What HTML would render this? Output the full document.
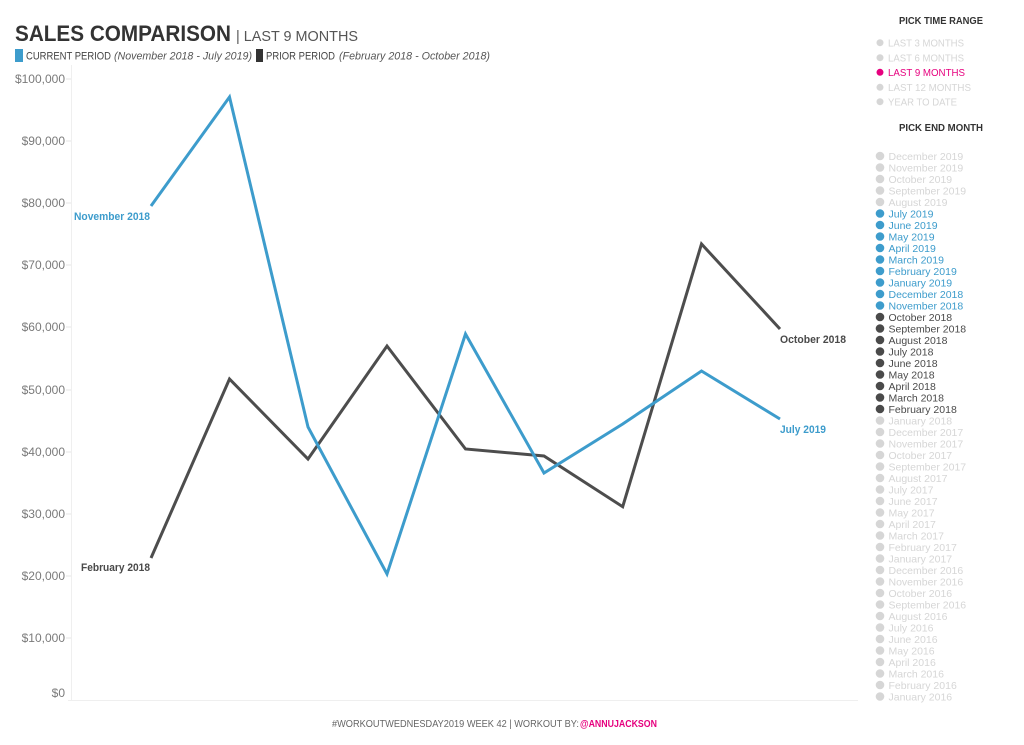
<!DOCTYPE html>
<html><head><meta charset="utf-8"><style>
html,body{margin:0;padding:0;background:#fff;}
svg{display:block;font-family:"Liberation Sans",sans-serif;}
</style></head><body>
<svg width="1024" height="745" viewBox="0 0 1024 745" xmlns="http://www.w3.org/2000/svg">
<rect width="1024" height="745" fill="#fff"/>
<!-- Title -->
<text x="15" y="41" font-size="22" font-weight="bold" fill="#333" textLength="216" lengthAdjust="spacingAndGlyphs">SALES COMPARISON</text>
<text x="236" y="41" font-size="15" fill="#555" textLength="122" lengthAdjust="spacingAndGlyphs">| LAST 9 MONTHS</text>
<!-- Legend -->
<rect x="15" y="49" width="8" height="13" fill="#3d9ccc"/>
<text x="26" y="59.5" font-size="11" fill="#444" textLength="85" lengthAdjust="spacingAndGlyphs">CURRENT PERIOD</text>
<text x="114" y="59.5" font-size="11" font-style="italic" fill="#555" textLength="138" lengthAdjust="spacingAndGlyphs">(November 2018 - July 2019)</text>
<rect x="256" y="49" width="7" height="13" fill="#333"/>
<text x="266" y="59.5" font-size="11" fill="#444" textLength="69" lengthAdjust="spacingAndGlyphs">PRIOR PERIOD</text>
<text x="339" y="59.5" font-size="11" font-style="italic" fill="#555" textLength="151" lengthAdjust="spacingAndGlyphs">(February 2018 - October 2018)</text>

<!-- Axes -->
<line x1="71.5" y1="65" x2="71.5" y2="700" stroke="#efefef" stroke-width="1"/>
<line x1="68" y1="700.5" x2="858" y2="700.5" stroke="#efefef" stroke-width="1"/>
<g stroke="#e6e6e6" stroke-width="1">
<line x1="66" y1="79" x2="71" y2="79"/>
<line x1="66" y1="141" x2="71" y2="141"/>
<line x1="66" y1="203" x2="71" y2="203"/>
<line x1="66" y1="265" x2="71" y2="265"/>
<line x1="66" y1="327" x2="71" y2="327"/>
<line x1="66" y1="390" x2="71" y2="390"/>
<line x1="66" y1="452" x2="71" y2="452"/>
<line x1="66" y1="514" x2="71" y2="514"/>
<line x1="66" y1="576" x2="71" y2="576"/>
<line x1="66" y1="638" x2="71" y2="638"/>
</g>
<g font-size="12" fill="#7a7a7a" text-anchor="end">
<text x="65" y="83">$100,000</text>
<text x="65" y="145">$90,000</text>
<text x="65" y="207">$80,000</text>
<text x="65" y="269">$70,000</text>
<text x="65" y="331">$60,000</text>
<text x="65" y="394">$50,000</text>
<text x="65" y="456">$40,000</text>
<text x="65" y="518">$30,000</text>
<text x="65" y="580">$20,000</text>
<text x="65" y="642">$10,000</text>
<text x="65" y="697">$0</text>
</g>

<!-- Series -->
<polyline fill="none" stroke="#4d4d4d" stroke-width="3" stroke-linejoin="miter"
 points="151,558 229.5,379 308,459 387,346 465.5,449 544,456 622.7,506.7 701.5,244 780,329"/>
<polyline fill="none" stroke="#3d9ccc" stroke-width="3" stroke-linejoin="miter"
 points="151,206 229.5,97 308,427 387,574 465.5,334 544,473 622.7,424 701.5,371 780,419"/>

<!-- Data labels -->
<text x="74" y="220" font-size="11" font-weight="bold" fill="#3d9ccc" textLength="76" lengthAdjust="spacingAndGlyphs">November 2018</text>
<text x="81" y="571" font-size="11" font-weight="bold" fill="#4a4a4a" textLength="69" lengthAdjust="spacingAndGlyphs">February 2018</text>
<text x="780" y="343" font-size="11" font-weight="bold" fill="#4a4a4a" textLength="66" lengthAdjust="spacingAndGlyphs">October 2018</text>
<text x="780" y="433" font-size="11" font-weight="bold" fill="#3d9ccc" textLength="46" lengthAdjust="spacingAndGlyphs">July 2019</text>

<!-- Footer -->
<text x="332" y="727" font-size="10" fill="#666" textLength="247" lengthAdjust="spacingAndGlyphs">#WORKOUTWEDNESDAY2019 WEEK 42 | WORKOUT BY:</text>
<text x="580" y="727" font-size="10" font-weight="bold" fill="#e6007e" textLength="77" lengthAdjust="spacingAndGlyphs">@ANNUJACKSON</text>

<!-- Right panel: time range -->
<text x="899" y="24" font-size="10" font-weight="bold" fill="#333" textLength="84" lengthAdjust="spacingAndGlyphs">PICK TIME RANGE</text>
<g font-size="10">
<circle cx="880" cy="42.7" r="3.5" fill="#d6d6d6"/><text x="888" y="46.5" fill="#d6d6d6" textLength="76" lengthAdjust="spacingAndGlyphs">LAST 3 MONTHS</text>
<circle cx="880" cy="57.7" r="3.5" fill="#d6d6d6"/><text x="888" y="61.5" fill="#d6d6d6" textLength="76" lengthAdjust="spacingAndGlyphs">LAST 6 MONTHS</text>
<circle cx="880" cy="72.3" r="3.5" fill="#e6007e"/><text x="888" y="76.1" fill="#e6007e" textLength="77" lengthAdjust="spacingAndGlyphs">LAST 9 MONTHS</text>
<circle cx="880" cy="87.3" r="3.5" fill="#d6d6d6"/><text x="888" y="91.1" fill="#d6d6d6" textLength="83" lengthAdjust="spacingAndGlyphs">LAST 12 MONTHS</text>
<circle cx="880" cy="101.7" r="3.5" fill="#d6d6d6"/><text x="888" y="105.5" fill="#d6d6d6" textLength="69" lengthAdjust="spacingAndGlyphs">YEAR TO DATE</text>
</g>
<text x="899" y="131" font-size="10" font-weight="bold" fill="#333" textLength="84" lengthAdjust="spacingAndGlyphs">PICK END MONTH</text>

<!-- End months -->
<g font-size="10.5" id="months">
<circle cx="880" cy="156" r="4.3" fill="#d6d6d6"/><text x="888.5" y="159.8" fill="#d6d6d6">December 2019</text>
<circle cx="880" cy="167.5" r="4.3" fill="#d6d6d6"/><text x="888.5" y="171.3" fill="#d6d6d6">November 2019</text>
<circle cx="880" cy="179" r="4.3" fill="#d6d6d6"/><text x="888.5" y="182.8" fill="#d6d6d6">October 2019</text>
<circle cx="880" cy="190.5" r="4.3" fill="#d6d6d6"/><text x="888.5" y="194.3" fill="#d6d6d6">September 2019</text>
<circle cx="880" cy="202" r="4.3" fill="#d6d6d6"/><text x="888.5" y="205.8" fill="#d6d6d6">August 2019</text>
<circle cx="880" cy="213.5" r="4.3" fill="#3d9ccc"/><text x="888.5" y="217.3" fill="#3d9ccc">July 2019</text>
<circle cx="880" cy="225" r="4.3" fill="#3d9ccc"/><text x="888.5" y="228.8" fill="#3d9ccc">June 2019</text>
<circle cx="880" cy="236.5" r="4.3" fill="#3d9ccc"/><text x="888.5" y="240.3" fill="#3d9ccc">May 2019</text>
<circle cx="880" cy="248" r="4.3" fill="#3d9ccc"/><text x="888.5" y="251.8" fill="#3d9ccc">April 2019</text>
<circle cx="880" cy="259.5" r="4.3" fill="#3d9ccc"/><text x="888.5" y="263.3" fill="#3d9ccc">March 2019</text>
<circle cx="880" cy="271" r="4.3" fill="#3d9ccc"/><text x="888.5" y="274.8" fill="#3d9ccc">February 2019</text>
<circle cx="880" cy="282.5" r="4.3" fill="#3d9ccc"/><text x="888.5" y="286.3" fill="#3d9ccc">January 2019</text>
<circle cx="880" cy="294" r="4.3" fill="#3d9ccc"/><text x="888.5" y="297.8" fill="#3d9ccc">December 2018</text>
<circle cx="880" cy="305.5" r="4.3" fill="#3d9ccc"/><text x="888.5" y="309.3" fill="#3d9ccc">November 2018</text>
<circle cx="880" cy="317" r="4.3" fill="#4a4a4a"/><text x="888.5" y="320.8" fill="#4a4a4a">October 2018</text>
<circle cx="880" cy="328.5" r="4.3" fill="#4a4a4a"/><text x="888.5" y="332.3" fill="#4a4a4a">September 2018</text>
<circle cx="880" cy="340" r="4.3" fill="#4a4a4a"/><text x="888.5" y="343.8" fill="#4a4a4a">August 2018</text>
<circle cx="880" cy="351.5" r="4.3" fill="#4a4a4a"/><text x="888.5" y="355.3" fill="#4a4a4a">July 2018</text>
<circle cx="880" cy="363" r="4.3" fill="#4a4a4a"/><text x="888.5" y="366.8" fill="#4a4a4a">June 2018</text>
<circle cx="880" cy="374.5" r="4.3" fill="#4a4a4a"/><text x="888.5" y="378.3" fill="#4a4a4a">May 2018</text>
<circle cx="880" cy="386" r="4.3" fill="#4a4a4a"/><text x="888.5" y="389.8" fill="#4a4a4a">April 2018</text>
<circle cx="880" cy="397.5" r="4.3" fill="#4a4a4a"/><text x="888.5" y="401.3" fill="#4a4a4a">March 2018</text>
<circle cx="880" cy="409" r="4.3" fill="#4a4a4a"/><text x="888.5" y="412.8" fill="#4a4a4a">February 2018</text>
<circle cx="880" cy="420.5" r="4.3" fill="#d6d6d6"/><text x="888.5" y="424.3" fill="#d6d6d6">January 2018</text>
<circle cx="880" cy="432" r="4.3" fill="#d6d6d6"/><text x="888.5" y="435.8" fill="#d6d6d6">December 2017</text>
<circle cx="880" cy="443.5" r="4.3" fill="#d6d6d6"/><text x="888.5" y="447.3" fill="#d6d6d6">November 2017</text>
<circle cx="880" cy="455" r="4.3" fill="#d6d6d6"/><text x="888.5" y="458.8" fill="#d6d6d6">October 2017</text>
<circle cx="880" cy="466.5" r="4.3" fill="#d6d6d6"/><text x="888.5" y="470.3" fill="#d6d6d6">September 2017</text>
<circle cx="880" cy="478" r="4.3" fill="#d6d6d6"/><text x="888.5" y="481.8" fill="#d6d6d6">August 2017</text>
<circle cx="880" cy="489.5" r="4.3" fill="#d6d6d6"/><text x="888.5" y="493.3" fill="#d6d6d6">July 2017</text>
<circle cx="880" cy="501" r="4.3" fill="#d6d6d6"/><text x="888.5" y="504.8" fill="#d6d6d6">June 2017</text>
<circle cx="880" cy="512.5" r="4.3" fill="#d6d6d6"/><text x="888.5" y="516.3" fill="#d6d6d6">May 2017</text>
<circle cx="880" cy="524" r="4.3" fill="#d6d6d6"/><text x="888.5" y="527.8" fill="#d6d6d6">April 2017</text>
<circle cx="880" cy="535.5" r="4.3" fill="#d6d6d6"/><text x="888.5" y="539.3" fill="#d6d6d6">March 2017</text>
<circle cx="880" cy="547" r="4.3" fill="#d6d6d6"/><text x="888.5" y="550.8" fill="#d6d6d6">February 2017</text>
<circle cx="880" cy="558.5" r="4.3" fill="#d6d6d6"/><text x="888.5" y="562.3" fill="#d6d6d6">January 2017</text>
<circle cx="880" cy="570" r="4.3" fill="#d6d6d6"/><text x="888.5" y="573.8" fill="#d6d6d6">December 2016</text>
<circle cx="880" cy="581.5" r="4.3" fill="#d6d6d6"/><text x="888.5" y="585.3" fill="#d6d6d6">November 2016</text>
<circle cx="880" cy="593" r="4.3" fill="#d6d6d6"/><text x="888.5" y="596.8" fill="#d6d6d6">October 2016</text>
<circle cx="880" cy="604.5" r="4.3" fill="#d6d6d6"/><text x="888.5" y="608.3" fill="#d6d6d6">September 2016</text>
<circle cx="880" cy="616" r="4.3" fill="#d6d6d6"/><text x="888.5" y="619.8" fill="#d6d6d6">August 2016</text>
<circle cx="880" cy="627.5" r="4.3" fill="#d6d6d6"/><text x="888.5" y="631.3" fill="#d6d6d6">July 2016</text>
<circle cx="880" cy="639" r="4.3" fill="#d6d6d6"/><text x="888.5" y="642.8" fill="#d6d6d6">June 2016</text>
<circle cx="880" cy="650.5" r="4.3" fill="#d6d6d6"/><text x="888.5" y="654.3" fill="#d6d6d6">May 2016</text>
<circle cx="880" cy="662" r="4.3" fill="#d6d6d6"/><text x="888.5" y="665.8" fill="#d6d6d6">April 2016</text>
<circle cx="880" cy="673.5" r="4.3" fill="#d6d6d6"/><text x="888.5" y="677.3" fill="#d6d6d6">March 2016</text>
<circle cx="880" cy="685" r="4.3" fill="#d6d6d6"/><text x="888.5" y="688.8" fill="#d6d6d6">February 2016</text>
<circle cx="880" cy="696.5" r="4.3" fill="#d6d6d6"/><text x="888.5" y="700.3" fill="#d6d6d6">January 2016</text>
</g>
</svg>
</body></html>
